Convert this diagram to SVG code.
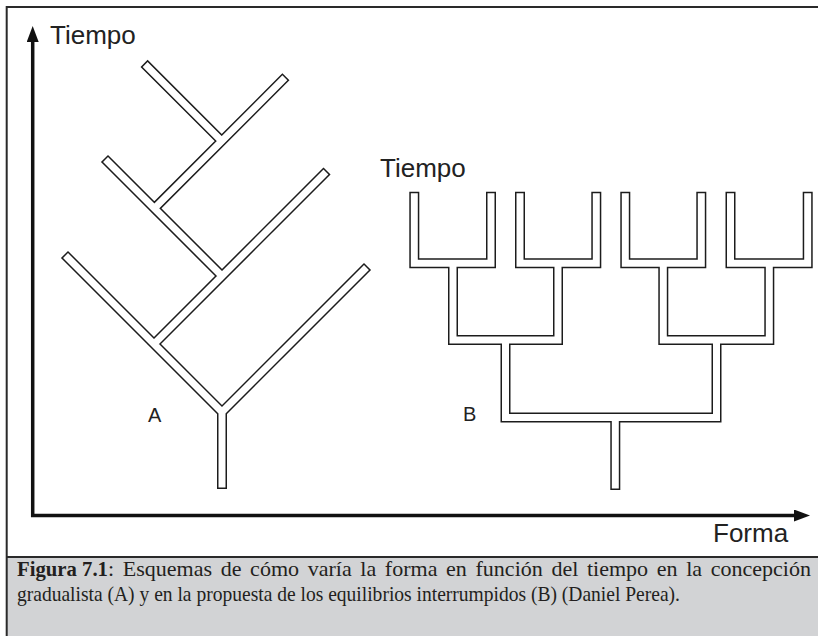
<svg xmlns="http://www.w3.org/2000/svg" xmlns:xlink="http://www.w3.org/1999/xlink" width="818" height="636" viewBox="0 0 818 636">
  <style>
    .frame { stroke: #2a2a2a; stroke-width: 2; fill: none; }
    .axis { stroke: #111; stroke-width: 3.5; fill: none; stroke-linejoin: miter; }
    .outer { fill: none; stroke: #1c1c1c; stroke-width: 10; stroke-linecap: square; stroke-linejoin: miter; }
    .inner { fill: none; stroke: #ffffff; stroke-width: 7; stroke-linecap: square; stroke-linejoin: miter; }
    .lbl { font-family: "Liberation Sans", Arial, sans-serif; fill: #222; }
    .cap { font-family: "Liberation Serif", "Times New Roman", serif; font-size: 21px; fill: #231f20; }
  </style>
  <defs>
    <marker id="arrow" markerUnits="userSpaceOnUse" markerWidth="17" markerHeight="12" refX="0" refY="6" orient="auto-start-reverse">
      <path d="M0,0 L16,6 L0,12 Z" fill="#111"/>
    </marker>
    <path id="treeA" d="M222,484 L222,412 L68,258 M222,484 L222,412 L364,270 M154,344 L323.5,174.5 M222,276 L108,162 M154.35,208.35 L282.4,80.3 M221.7,141 L147.6,66.9"/>
    <path id="treeB" d="M414.3,196.7 L414.3,263.3 L491,263.3 L491,196.7 M520,196.7 L520,263.3 L596.3,263.3 L596.3,196.7 M625.3,196.7 L625.3,263.3 L701.3,263.3 L701.3,196.7 M730.5,196.7 L730.5,263.3 L807.7,263.3 L807.7,196.7 M453,263.3 L453,340 L558,340 L558,263.3 M663.3,263.3 L663.3,340 L769.3,340 L769.3,263.3 M505.5,340 L505.5,417.5 L716.5,417.5 L716.5,340 M615.3,417.5 L615.3,485"/>
  </defs>

  <g id="background">
    <rect x="0" y="0" width="818" height="636" fill="#ffffff"/>
    <rect x="6.7" y="557" width="812" height="80" fill="#d2d3d5"/>
    <path class="frame" d="M6.7,636 L6.7,7 L818,7 M6.7,557 L818,557"/>
  </g>

  <g id="axes">
    <path class="axis" d="M32.7,42 L32.7,515.5 L794,515.5" marker-start="url(#arrow)" marker-end="url(#arrow)"/>
    <text class="lbl" x="50" y="44" font-size="26">Tiempo</text>
    <text class="lbl" x="713" y="542" font-size="26">Forma</text>
  </g>

  <g id="tree-a">
    <use xlink:href="#treeA" class="outer"/>
    <use xlink:href="#treeA" class="inner"/>
    <text class="lbl" x="148" y="422" font-size="20">A</text>
  </g>

  <g id="tree-b">
    <use xlink:href="#treeB" class="outer"/>
    <use xlink:href="#treeB" class="inner"/>
    <text class="lbl" x="380" y="177" font-size="26">Tiempo</text>
    <text class="lbl" x="463" y="421" font-size="20">B</text>
  </g>

  <g id="caption">
    <text class="cap" x="17" y="576" font-weight="bold" textLength="91" lengthAdjust="spacingAndGlyphs">Figura 7.1</text>
    <text class="cap" x="108" y="576" textLength="703" lengthAdjust="spacingAndGlyphs" word-spacing="3">: Esquemas de cómo varía la forma en función del tiempo en la concepción</text>
    <text class="cap" x="17" y="601" textLength="663" lengthAdjust="spacingAndGlyphs">gradualista (A) y en la propuesta de los equilibrios interrumpidos (B) (Daniel Perea).</text>
  </g>
</svg>
